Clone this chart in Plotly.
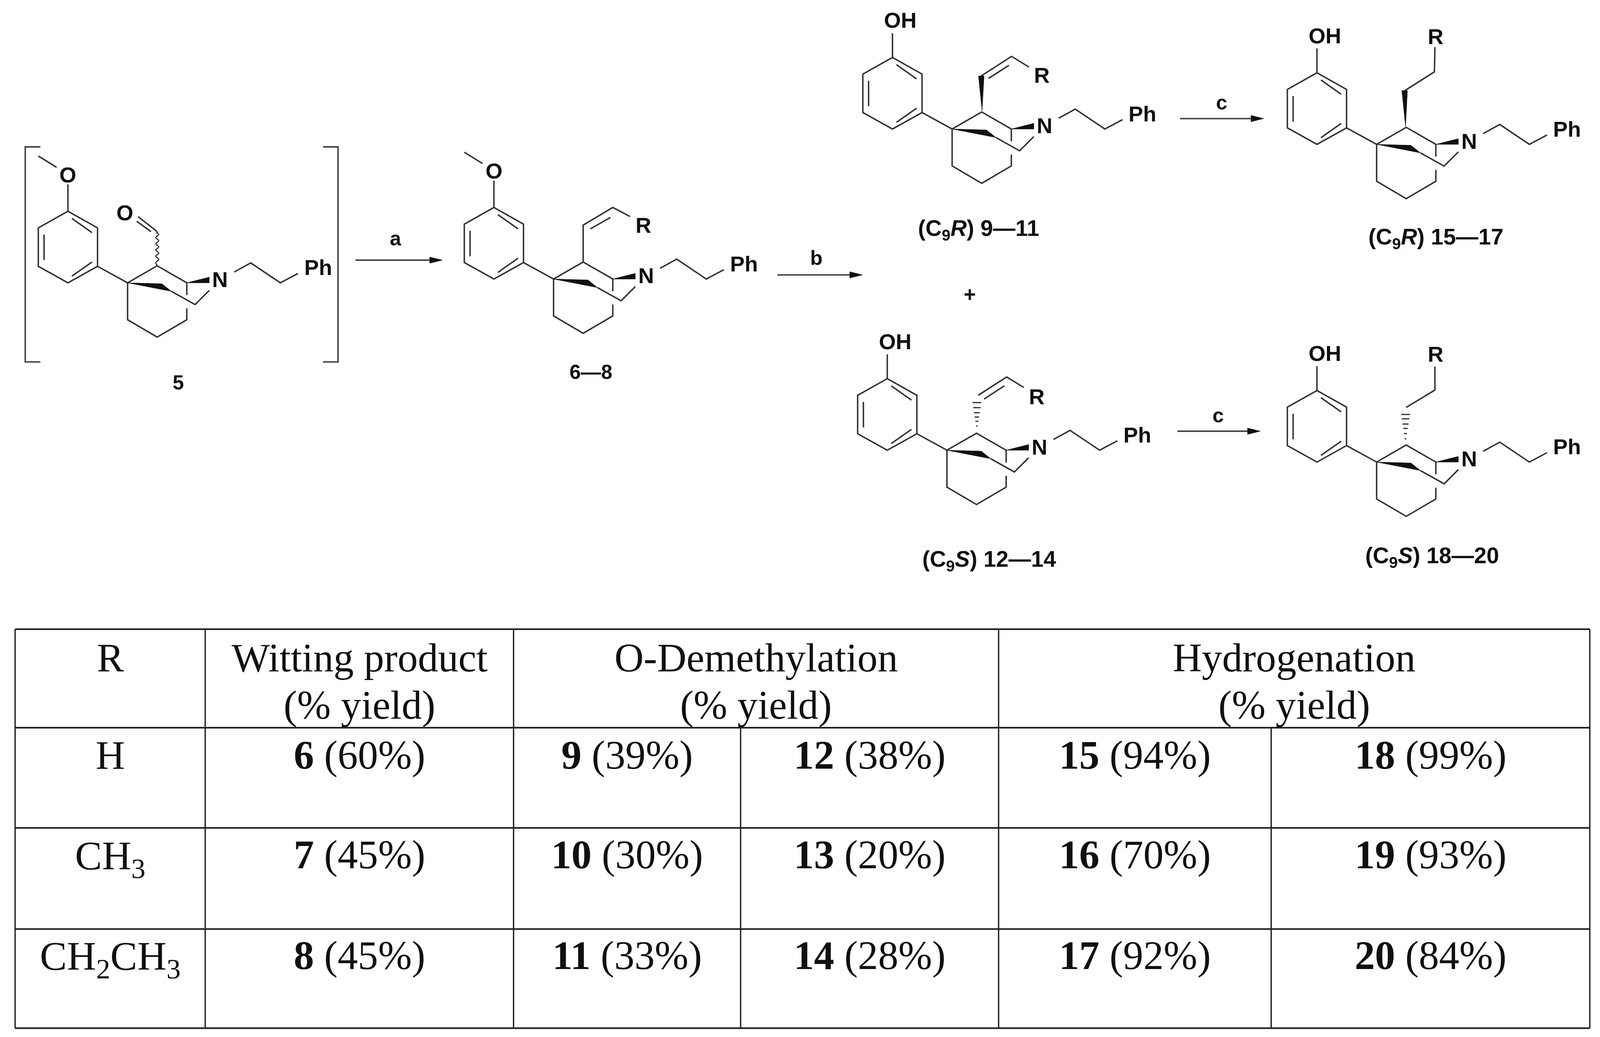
import plotly.graph_objects as go

# everything is in picture pixels, molecule parts are relative to the quaternary carbon
ink = "#303030"
text_ink = "#101010"
sans = "Liberation Sans"
serif = "Liberation Serif"
# the browser page ends up narrower than asked for, so the plot fills the window and sizes shrink a bit
px = 0.96

aryl_ring = [(-160.7, -183.2), (-81, -140.6), (-81, -42.2), (-160.7, 0), (-240.5, -42.2), (-240.5, -140.6), (-160.7, -183.2)]
aryl_inner = [
    [(-150, -164.8), (-95.7, -128.4)],
    [(-225, -123.6), (-225, -58.2)],
    [(-150, -17), (-95.7, -53.3)],
]
core_bonds = [
    [(-81, -42.2), (0, 0), (79.7, -43.6), (159.5, 0), (159.5, 31.5)],
    [(159.5, 65.4), (159.5, 94.5), (79.7, 139), (0, 94.5), (0, 0)],
    [(118, 21.8), (181.8, 55.7), (220, 19.4)],
    [(287, -27.6), (331.7, -50.9), (411.4, 0), (459, -24)],
]
core_wedges = [
    [(0, 0), (92.5, 2.4), (118, 21.8)],
    [(159.5, 0), (220, -14.5), (220, 0)],
]
n_label = (249, -8)
ph_label = (513, -38.8)

methoxy_bonds = [[(-160.7, -183.2), (-160.7, -252)], [(-191.3, -295.7), (-240.5, -324.7)]]
methoxy_label = (-160.7, -276)
phenol_bonds = [[(-160.7, -183.2), (-160.7, -245.5)]]
phenol_label = (-139, -278)

aldehyde_bonds = [[(80.7, -126), (77.2, -133), (28, -169.6)], [(63, -131), (24.6, -157.5)]]
aldehyde_wavy = [(80, -44), (76, -52), (84, -60), (76, -68), (84, -76), (76, -84), (84, -92), (76, -100), (84, -108), (76, -116), (84, -124), (80, -128)]
aldehyde_label = (-7, -179)

vinyl_plain = [[(79.7, -43.6), (79.7, -138), (159.5, -183.2), (206, -160)], [(98.9, -128.4), (153, -157.5)]]
vinyl_up = [[(78.6, -136), (160, -186), (207, -158.5)], [(98, -129.5), (153, -163)]]
vinyl_down = [[(84, -140.6), (161, -187.5), (207, -160.7)], [(100, -131), (155, -165)]]
vinyl_r = (242, -137)

ethyl_up = [[(75.7, -137.5), (155.7, -185.7), (157, -249)]]
ethyl_down = [[(79.3, -139.7), (157, -184.4), (157, -244.6)]]
ethyl_r = (159, -276)

wedge_vinyl = [(80.7, -46.9), (71, -136), (86, -136)]
wedge_ethyl = [(77.9, -46), (68, -137.5), (83, -137.5)]

hash_vinyl_x = 80.7
hash_vinyl_y = [-62, -74, -85, -96, -109, -122]
hash_ethyl_x = 77.9
hash_ethyl_y = [-59.4, -72.8, -86.2, -97.3, -110.7, -121.9]
hash_half = [2, 4, 6, 8, 10, 12]

# quaternary carbon of each drawing
q_5 = (343.7, 724.1)
q_6 = (1491.2, 714.4)
q_9 = (2564.8, 330.3)
q_15 = (3708.3, 369.6)
q_12 = (2550.8, 1152.7)
q_18 = (3708.3, 1183)

arrow_x0 = [957.6, 2094, 3178.6, 3171.6]
arrow_x1 = [1191.5, 2323, 3403.9, 3394.7]
arrow_y = [666, 703.8, 303.6, 1104]
arrow_names = ["a", "b", "c", "c"]
arrow_name_x = [1066, 2199, 3290.6, 3281.4]
arrow_name_y = [610, 660, 262, 1063.4]

compound_names = ["5", "6—8", "(C<sub>9</sub><i>R</i>) 9—11", "(C<sub>9</sub><i>R</i>) 15—17", "(C<sub>9</sub><i>S</i>) 12—14", "(C<sub>9</sub><i>S</i>) 18—20"]
compound_x = [480.5, 1591, 2636, 3868, 2665, 3858]
compound_y = [978.6, 952, 588, 610, 1435, 1426]
compound_size = [54, 54, 60, 60, 60, 60]

bracket_x = [68, 910.6]
bracket_tick = [108.7, 870]
bracket_y = [376, 926.7]

# table
grid_y = [1610.9, 1863.1, 2119.6, 2378.7, 2632.4]
grid_x = [40.7, 552.8, 1383.4, 1995, 2690, 3424.3, 4282.5]
r_groups = ["R", "H", "CH<sub>3</sub>", "CH<sub>2</sub>CH<sub>3</sub>"]
headers = ["Witting product", "O-Demethylation", "Hydrogenation"]
witting_ids = [6, 7, 8]
witting_yield = [60, 45, 45]
demeth_r_ids = [9, 10, 11]
demeth_r_yield = [39, 30, 33]
demeth_s_ids = [12, 13, 14]
demeth_s_yield = [38, 20, 28]
hydro_r_ids = [15, 16, 17]
hydro_r_yield = [94, 70, 92]
hydro_s_ids = [18, 19, 20]
hydro_s_yield = [99, 93, 84]

row_baseline = [1967, 2222, 2479.5]
header_baseline = [1717, 1839]
table_font = 108
baseline_shift = 0.31 * table_font
sub_shift = 10


def shift(q, pts):
    return [(q[0] + p[0], q[1] + p[1]) for p in pts]


def flatten(paths):
    xs, ys = [], []
    for path in paths:
        for p in path:
            xs.append(p[0])
            ys.append(p[1])
        xs.append(None)
        ys.append(None)
    return xs, ys


fig = go.Figure()
annotations = []


def add_lines(paths, width=3.8, color=ink, spline=False):
    xs, ys = flatten(paths)
    line = dict(color=color, width=width * px)
    if spline:
        line["shape"] = "spline"
    fig.add_trace(go.Scatter(x=xs, y=ys, mode="lines", line=line, hoverinfo="skip", showlegend=False))


def add_fill(paths):
    closed = [p + [p[0]] for p in paths]
    xs, ys = flatten(closed)
    fig.add_trace(go.Scatter(x=xs, y=ys, mode="lines", fill="toself", fillcolor="#111111",
                             line=dict(color="#111111", width=1), hoverinfo="skip", showlegend=False))


def add_text(x, y, text, size=58, family=sans, color=text_ink):
    annotations.append(dict(x=x, y=y, text=text, showarrow=False, xanchor="center", yanchor="middle",
                            font=dict(family=family, size=size * px, color=color)))


def draw_molecule(q, top, bonds, wedges, hashes, labels):
    paths = [aryl_ring] + aryl_inner + core_bonds + top + bonds
    add_lines([shift(q, p) for p in paths])
    add_fill([shift(q, p) for p in core_wedges + wedges])
    if hashes:
        hx, hy = hashes
        add_lines([shift(q, [(hx - h, y), (hx + h, y)]) for y, h in zip(hy, hash_half)], width=3.2)
    add_text(q[0] + n_label[0], q[1] + n_label[1], "<b>N</b>")
    add_text(q[0] + ph_label[0], q[1] + ph_label[1], "<b>Ph</b>")
    for pos, txt in labels:
        add_text(q[0] + pos[0], q[1] + pos[1], "<b>" + txt + "</b>")


draw_molecule(q_5, methoxy_bonds, aldehyde_bonds, [], None, [(methoxy_label, "O"), (aldehyde_label, "O")])
add_lines([shift(q_5, aldehyde_wavy)], spline=True, width=3)
draw_molecule(q_6, methoxy_bonds, vinyl_plain, [], None, [(methoxy_label, "O"), (vinyl_r, "R")])
draw_molecule(q_9, phenol_bonds, vinyl_up, [wedge_vinyl], None, [(phenol_label, "OH"), (vinyl_r, "R")])
draw_molecule(q_15, phenol_bonds, ethyl_up, [wedge_ethyl], None, [(phenol_label, "OH"), (ethyl_r, "R")])
draw_molecule(q_12, phenol_bonds, vinyl_down, [], (hash_vinyl_x, hash_vinyl_y), [(phenol_label, "OH"), (vinyl_r, "R")])
draw_molecule(q_18, phenol_bonds, ethyl_down, [], (hash_ethyl_x, hash_ethyl_y), [(phenol_label, "OH"), (ethyl_r, "R")])

# brackets around 5
add_lines([
    [(bracket_tick[0], bracket_y[0]), (bracket_x[0], bracket_y[0]), (bracket_x[0], bracket_y[1]), (bracket_tick[0], bracket_y[1])],
    [(bracket_tick[1], bracket_y[0]), (bracket_x[1], bracket_y[0]), (bracket_x[1], bracket_y[1]), (bracket_tick[1], bracket_y[1])],
], width=4, color="#444444")

# reaction arrows
for i in range(len(arrow_x0)):
    add_lines([[(arrow_x0[i], arrow_y[i]), (arrow_x1[i] - 30, arrow_y[i])]], width=4, color="#444444")
    add_fill([[(arrow_x1[i], arrow_y[i]), (arrow_x1[i] - 34, arrow_y[i] - 8), (arrow_x1[i] - 34, arrow_y[i] + 8)]])
    add_text(arrow_name_x[i], arrow_name_y[i], "<b>" + arrow_names[i] + "</b>", size=54)
add_text(2612, 753, "<b>+</b>", size=56)

for i in range(len(compound_names)):
    add_text(compound_x[i], compound_y[i], "<b>" + compound_names[i] + "</b>", size=compound_size[i])

# table grid
hlines = [[(grid_x[0], y), (grid_x[-1], y)] for y in grid_y]
add_lines(hlines, width=4.4, color="#222222")
vlines = [[(grid_x[i], grid_y[0]), (grid_x[i], grid_y[-1])] for i in [0, 1, 2, 4, 6]]
vlines += [[(grid_x[i], grid_y[1]), (grid_x[i], grid_y[-1])] for i in [3, 5]]
add_lines(vlines, width=3.6, color="#222222")


def mid(a, b):
    return (grid_x[a] + grid_x[b]) / 2


def table_text(x, baseline, text):
    # a subscript makes the label box taller, which lifts the text
    if "<sub>" in text:
        baseline += sub_shift
    add_text(x, baseline - baseline_shift, text, size=table_font, family=serif)


table_text(mid(0, 1), header_baseline[0], r_groups[0])
for col, name in zip([(1, 2), (2, 4), (4, 6)], headers):
    table_text(mid(*col), header_baseline[0], name)
    table_text(mid(*col), header_baseline[1], "(% yield)")

columns = [
    ((1, 2), witting_ids, witting_yield),
    ((2, 3), demeth_r_ids, demeth_r_yield),
    ((3, 4), demeth_s_ids, demeth_s_yield),
    ((4, 5), hydro_r_ids, hydro_r_yield),
    ((5, 6), hydro_s_ids, hydro_s_yield),
]
for r in range(3):
    table_text(mid(0, 1), row_baseline[r], r_groups[r + 1])
    for col, ids, yields in columns:
        table_text(mid(*col), row_baseline[r], "<b>%d</b> (%d%%)" % (ids[r], yields[r]))

fig.update_xaxes(range=[0, 4310], visible=False, fixedrange=True)
fig.update_yaxes(range=[2655, 0], visible=False, fixedrange=True)
fig.update_layout(autosize=True, margin=dict(l=0, r=0, t=0, b=0), paper_bgcolor="white",
                  plot_bgcolor="white", showlegend=False, annotations=annotations)
fig.write_html("out.html", config={"displayModeBar": False, "responsive": True}, default_width="100%", default_height="100vh",
               post_script="document.body.style.margin='0';Plotly.Plots.resize(document.getElementById('{plot_id}'));")
